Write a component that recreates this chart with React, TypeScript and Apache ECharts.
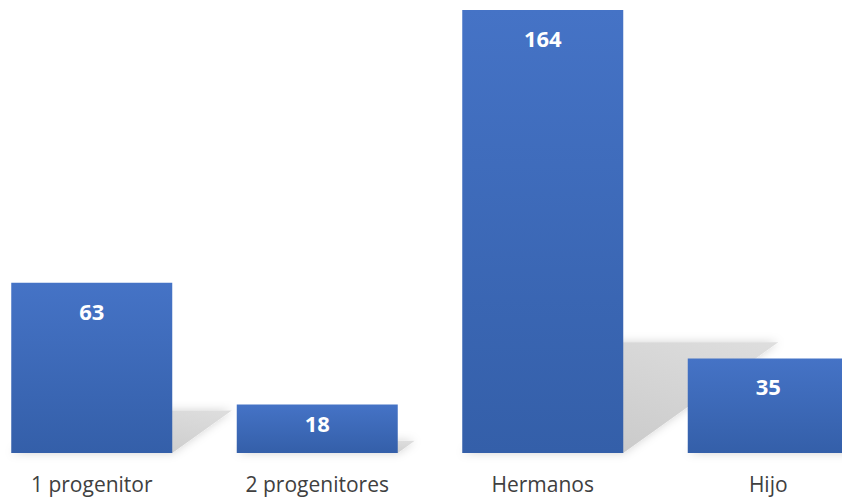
import React, { useEffect, useRef } from "react";
import * as echarts from "echarts";

const categories = ["1 progenitor", "2 progenitores", "Hermanos", "Hijo"];
const values = [63, 18, 164, 35];

export default function App() {
  const ref = useRef<HTMLDivElement>(null);
  useEffect(() => {
    if (!ref.current) return;
    const chart = echarts.init(ref.current, null, { renderer: "svg" });
    const font = "'Open Sans', 'Noto Sans', sans-serif";
    chart.setOption({
      animation: false,
      backgroundColor: "#ffffff",
      grid: {
        left: -21,
        width: 902,
        top: 10,
        bottom: 47,
        containLabel: false,
        outerBoundsMode: "none",
      },
      xAxis: {
        type: "category",
        data: categories,
        axisLine: { show: false },
        axisTick: { show: false },
        axisLabel: { color: "#404040", fontSize: 21, fontFamily: font, margin: 20 },
      },
      yAxis: { type: "value", min: 0, max: 164, show: false, splitLine: { show: false } },
      series: [
        {
          type: "custom",
          z: 1,
          data: values.map((v, i) => [i, v]),
          renderItem: (params: any, api: any) => {
            const idx = api.value(0);
            const v = api.value(1);
            const base = api.coord([idx, 0]);
            const top = api.coord([idx, v]);
            const h = base[1] - top[1];
            const half = 80.5;
            const x0 = base[0] - half;
            const x1 = base[0] + half;
            const b = base[1];
            const dx = 0.35 * h;
            const dy = 0.25 * h;
            return {
              type: "polygon",
              shape: {
                points: [
                  [x0, b],
                  [x1, b],
                  [x1 + dx, b - dy],
                  [x0 + dx, b - dy],
                ],
              },
              style: {
                fill: new echarts.graphic.LinearGradient(0, 1, 1, 0, [
                  { offset: 0, color: "#c4c4c4" },
                  { offset: 1, color: "#dedede" },
                ]),
                shadowBlur: 10,
                shadowColor: "rgba(0,0,0,0.18)",
              },
            };
          },
        },
        {
          type: "bar",
          z: 2,
          data: values.map((v) => ({
            value: v,
            label: { distance: v < 30 ? 8 : 17 },
          })),
          barWidth: 161,
          itemStyle: {
            color: new echarts.graphic.LinearGradient(0, 0, 0, 1, [
              { offset: 0, color: "#4573c6" },
              { offset: 1, color: "#345fa9" },
            ]),
          },
          label: {
            show: true,
            position: "insideTop",
            distance: 17,
            color: "#ffffff",
            fontSize: 22,
            fontWeight: "bold",
            fontFamily: font,
          },
        },
      ],
    });
    return () => chart.dispose();
  }, []);
  return (
    <div
      ref={ref}
      style={{ position: "fixed", left: 0, top: 0, width: 842, height: 500 }}
    />
  );
}
